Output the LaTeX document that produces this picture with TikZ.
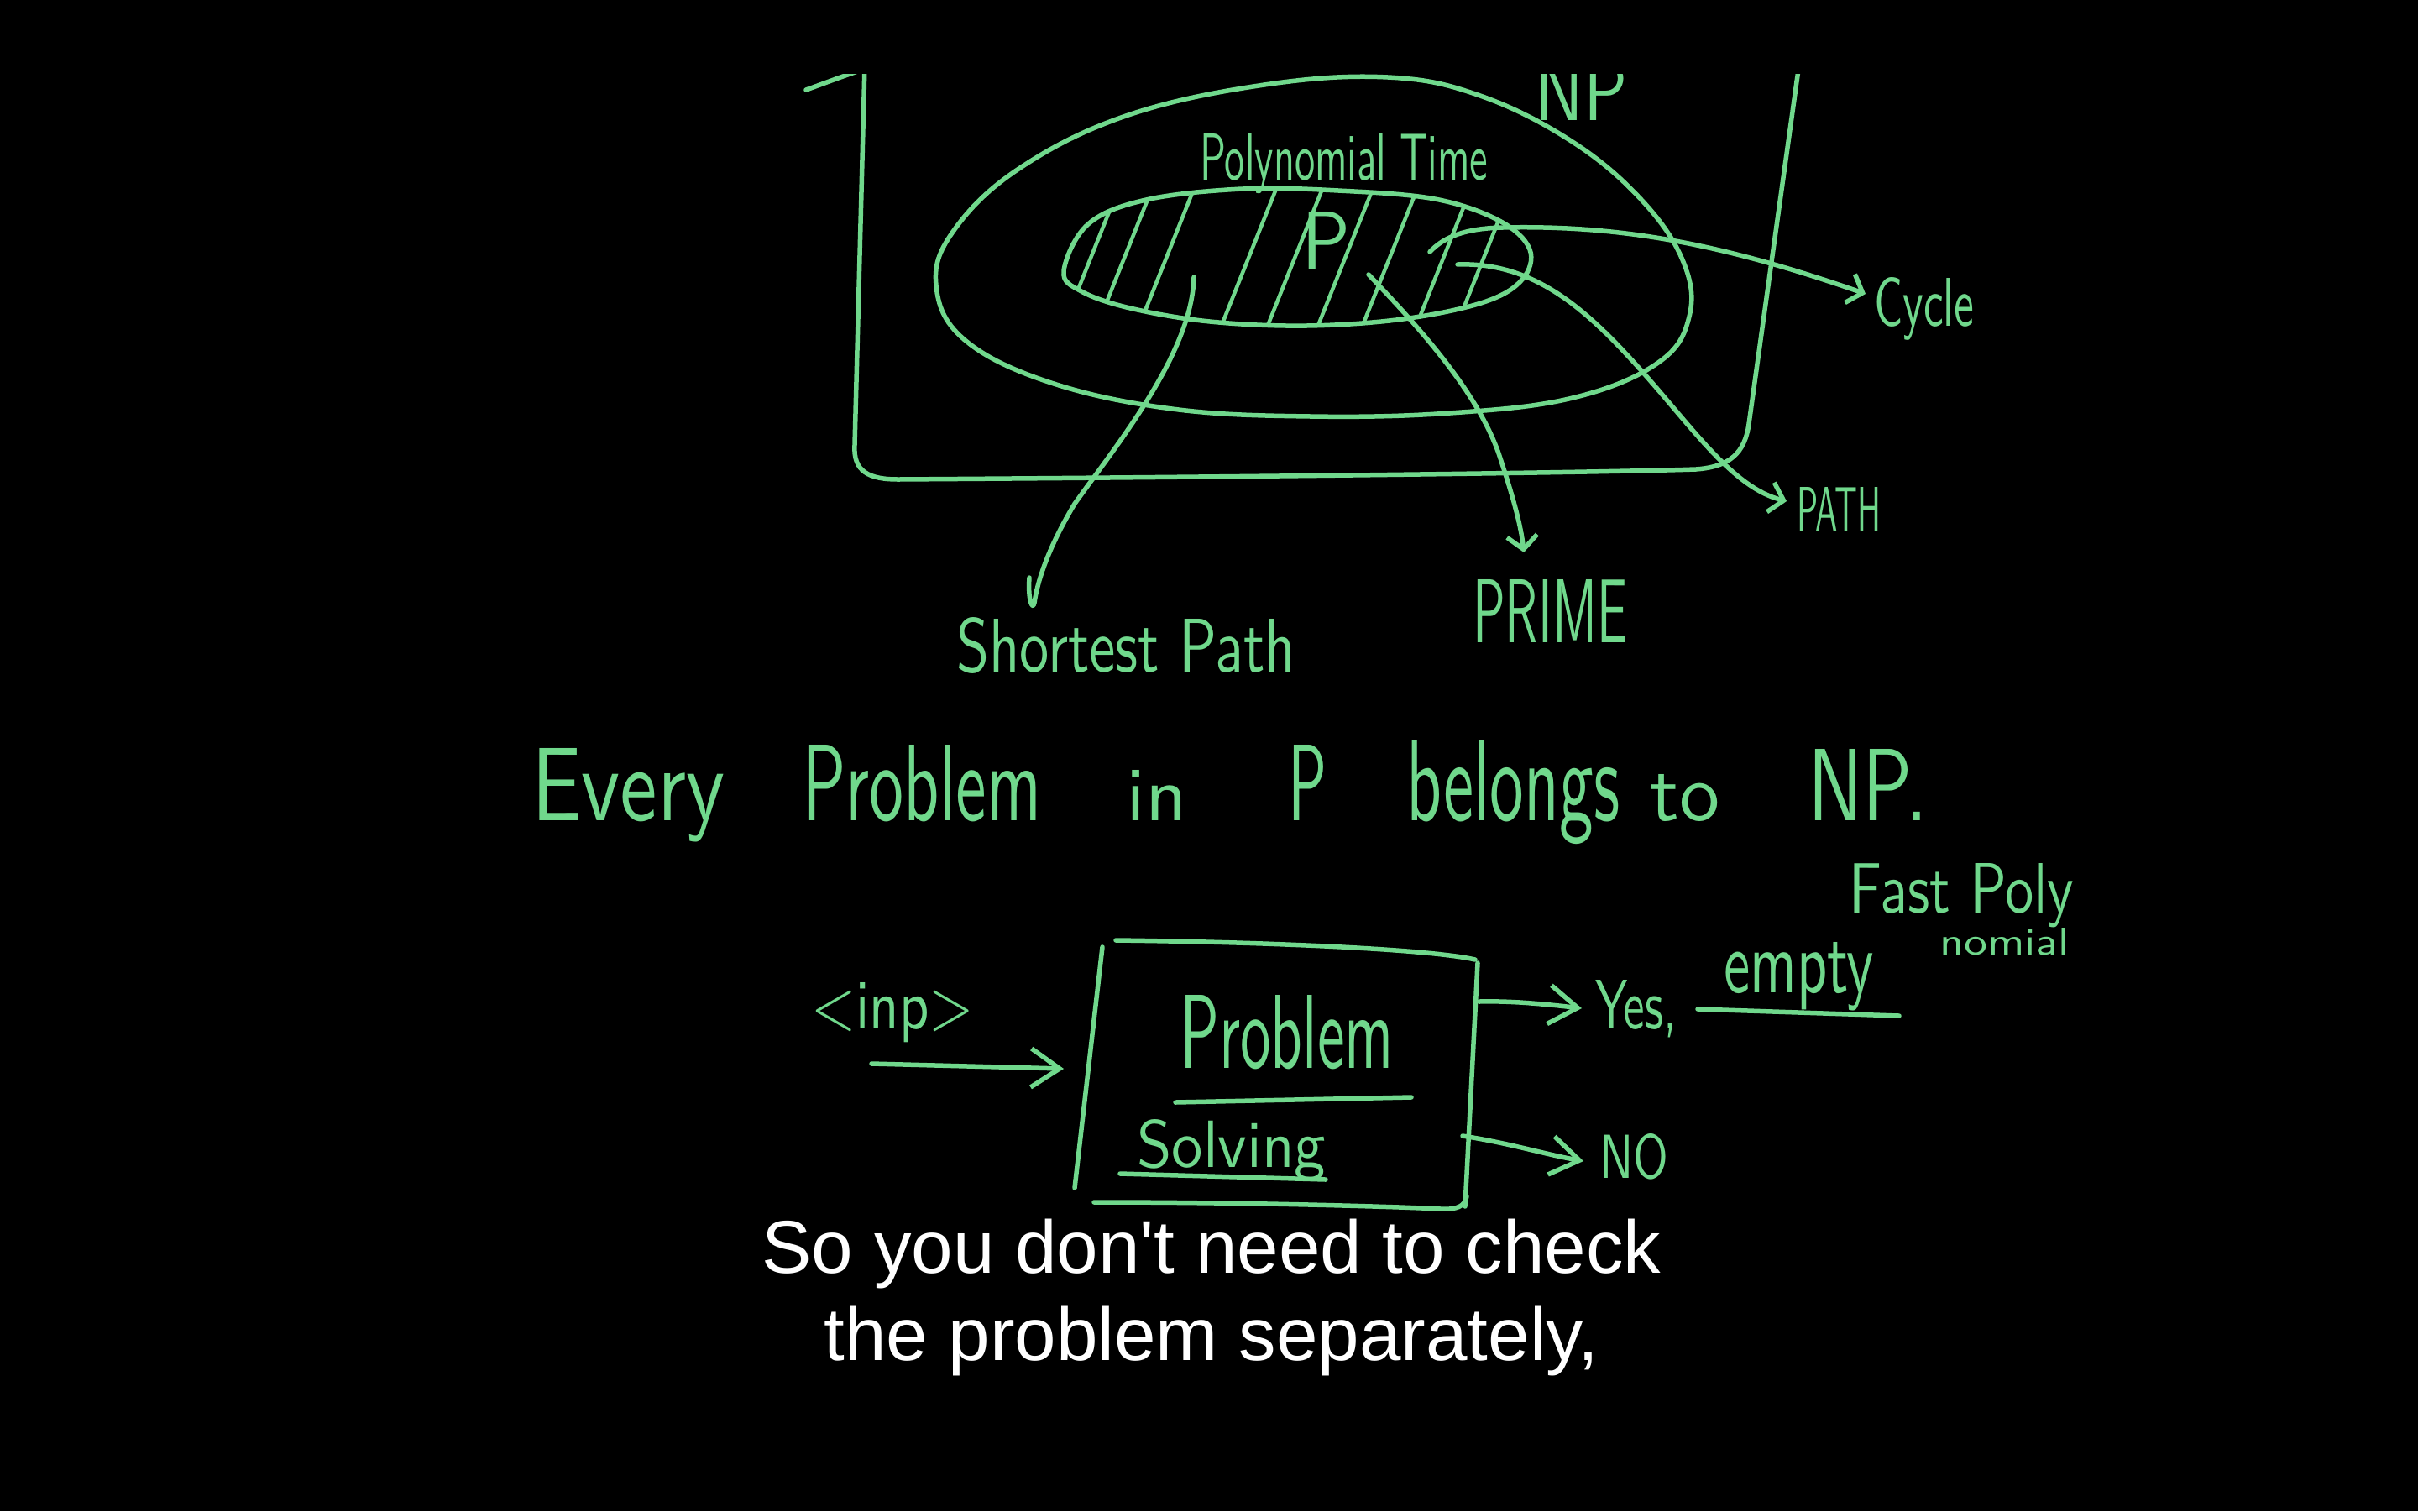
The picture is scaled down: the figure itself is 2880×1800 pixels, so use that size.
\documentclass[tikz,border=0pt]{standalone}
\usepackage{fontspec}
\usepackage{graphicx}
\usetikzlibrary{arrows.meta}
\newfontfamily\subfont{Liberation Sans}
\newfontfamily\hand{lmsans10-regular.otf}
\definecolor{chalk}{RGB}{112,216,140}
\newcommand\hw[3]{\resizebox{#1pt}{#2pt}{\hand #3}}
\begin{document}
\begin{tikzpicture}[x=1pt,y=-1pt, line cap=round, line join=round,
  pen/.style={draw=chalk, line width=5.5pt},
  hand/.style={text=chalk, inner sep=0pt, anchor=base west},
  smalltip/.style={-{Straight Barb[length=16pt,width=36pt]}},
  bigtip/.style={-{Straight Barb[length=34pt,width=46pt]}},
  sub/.style={text=white, font=\subfont\fontsize{89}{100}\selectfont, inner sep=0pt, anchor=base}]
\fill[black] (0,0) rectangle (2880,1800);
\useasboundingbox (0,0) rectangle (2880,1800);

% ---------------- top part (clipped at the frame edge) ----------------
\begin{scope}
\clip (0,88) rectangle (2880,1800);
% NP frame
\draw[pen] (1031,40) -- (1018,530) .. controls (1016,562) and (1035,571) .. (1070,571)
  .. controls (1500,568) and (1900,563) .. (2020,559)
  .. controls (2060,556) and (2078,540) .. (2083,505) -- (2148,40);
\draw[pen] (960,107) .. controls (980,100) and (1000,92) .. (1030,82);
% NP set
\draw[pen] plot[smooth cycle, tension=0.65] coordinates {
  (1653,92) (1763,114) (1873,169) (1956,239) (2005,312) (2012,377) (1975,432)
  (1873,474) (1727,492) (1561,496) (1396,487) (1249,455) (1148,404) (1115,340)
  (1135,276) (1212,202) (1341,138) (1506,101)};
\node[hand] (np) at (1828,143) {\hw{110}{70}{NP}};
\end{scope}

% P set (inner)
\draw[pen] plot[smooth cycle, tension=0.6] coordinates {
  (1267,323) (1296,267) (1365,238) (1480,225) (1594,227) (1709,237) (1786,263)
  (1822,297) (1813,333) (1767,360) (1671,380) (1556,388) (1441,383) (1346,367) (1288,347)};
\begin{scope}
\clip plot[smooth cycle, tension=0.6] coordinates {
  (1267,323) (1296,267) (1365,238) (1480,225) (1594,227) (1709,237) (1786,263)
  (1822,297) (1813,333) (1767,360) (1671,380) (1556,388) (1441,383) (1346,367) (1288,347)};
\foreach \xb in {1262,1302,1352,1450,1505,1565,1618,1682,1730}
  \draw[pen, line width=4.5pt] (\xb,400) -- ++(72,-180);
\end{scope}
\node[hand] (pset) at (1550,320) {\hw{58}{68}{P}};
\node[hand] (poly) at (1429,214) {\hw{343}{55}{Polynomial Time}};

% labels of the top part
\node[hand] (cyc) at (2232,388) {\hw{119}{58}{Cycle}};
\node[hand] (path) at (2140,632) {\hw{100}{52}{PATH}};
\node[hand] (prime) at (1754,765) {\hw{184}{75}{PRIME}};
\node[hand] (sp) at (1139,800) {\hw{404}{65}{Shortest Path}};

% connector end points
\coordinate (cyS) at (1703,300);
\coordinate (cyT) at (2222,350);
\coordinate (paS) at (1736,315);
\coordinate (paT) at (2128,597);
\coordinate (prS) at (1630,327);
\coordinate (prT) at (1815,658);
\coordinate (spS) at (1422,330);
\coordinate (spT) at (1232,718);

\draw[pen, smalltip] (cyS) .. controls (1720,282) and (1745,272) .. (1790,271)
  .. controls (1930,268) and (2050,290) .. (cyT);
\draw[pen, smalltip] (paS) .. controls (1820,312) and (1880,360) .. (1940,425)
  .. controls (2010,500) and (2060,580) .. (paT);
\draw[pen, smalltip] (prS) .. controls (1700,400) and (1760,470) .. (1785,540)
  .. controls (1805,600) and (1812,630) .. (prT);
\draw[pen] (spS) .. controls (1420,420) and (1330,530) .. (1280,600)
  .. controls (1250,650) and (1236,690) .. (spT)
  .. controls (1230,728) and (1224,715) .. (1226,688);

% ---------------- sentence ----------------
\node[hand] (w1) at (633,977)  {\hw{230}{86}{Every}};
\node[hand] (w2) at (955,977)  {\hw{285}{90}{Problem}};
\node[hand] (w3) at (1341,977) {\hw{73}{60}{in}};
\node[hand] (w4) at (1534,977) {\hw{46}{90}{P}};
\node[hand] (w5) at (1675,977) {\hw{254}{95}{belongs}};
\node[hand] (w6) at (1965,977) {\hw{83}{55}{to}};
\node[hand] (w7) at (2153,977) {\hw{143}{85}{NP.}};

% ---------------- problem solving box ----------------
\draw[pen] (1329,1120) .. controls (1500,1122) and (1700,1130) .. (1757,1143);
\draw[pen] (1313,1128) -- (1280,1415);
\draw[pen] (1760,1147) -- (1745,1437);
\draw[pen] (1303,1432) .. controls (1500,1432) and (1680,1438) .. (1716,1440)
  .. controls (1735,1441) and (1745,1437) .. (1747,1425);
\node[hand] (prob) at (1405,1272) {\hw{255}{87}{Problem}};
\node[hand] (solv) at (1354,1390) {\hw{225}{57}{Solving}};
\draw[pen] (1400,1313) -- (1681,1307);
\draw[pen] (1334,1398) -- (1579,1405);

\node[hand] (inp) at (966,1225) {\hw{194}{55}{<inp>}};
\node[hand] (yes) at (1900,1225) {\hw{97}{58}{Yes,}};
\node[hand] (no) at (1905,1403) {\hw{82}{53}{NO}};
\node[hand] (empty) at (2053,1182) {\hw{179}{60}{empty}};
\node[hand] (fast) at (2202,1087) {\hw{268}{59}{Fast Poly}};
\node[hand] (nom) at (2310,1137) {\hw{155}{32}{nomial}};

\coordinate (inS) at (1038,1267);
\coordinate (inT) at (1267,1273);
\coordinate (yS) at (1762,1193);
\coordinate (yT) at (1884,1201);
\coordinate (nS) at (1742,1353);
\coordinate (nT) at (1886,1383);
\draw[pen, bigtip] (inS) -- (inT);
\draw[pen, bigtip] (yS) .. controls (1800,1192) and (1840,1196) .. (yT);
\draw[pen, bigtip] (nS) .. controls (1800,1362) and (1840,1375) .. (nT);
\draw[pen] (2022,1202) -- (2262,1210);

% ---------------- subtitle ----------------
\node[sub] (s1) at (1443,1516) {So you don't need to check};
\node[sub] (s2) at (1443,1620) {the problem separately,};
\end{tikzpicture}
\end{document}
